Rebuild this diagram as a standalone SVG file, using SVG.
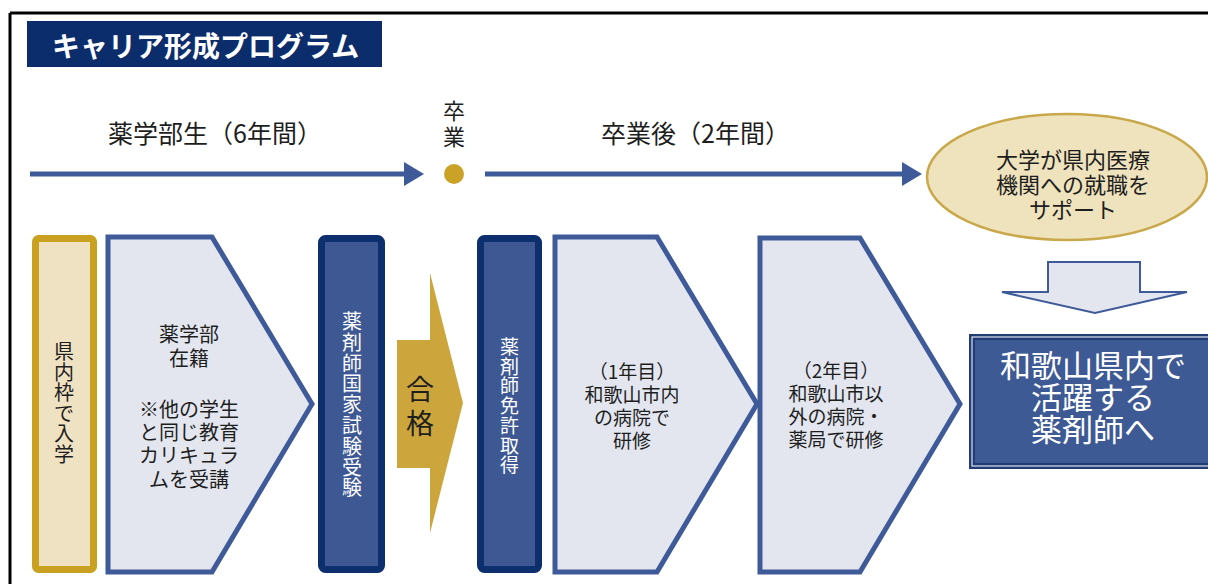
<svg xmlns="http://www.w3.org/2000/svg" width="1208" height="584" viewBox="0 0 1208 584">
<style>
text{font-family:"Noto Sans CJK JP","Noto Sans",sans-serif;dominant-baseline:central;text-anchor:middle}
.dk{fill:#1e1e1e}
.wt{fill:#ffffff}
.pent{fill:#e3e6ef;stroke:#3f5a98;stroke-width:5;stroke-linejoin:miter}
.bar{fill:#3d5893;stroke:#0e2f6e;stroke-width:7}
.tl{stroke:#3f5a98;stroke-width:5}
.tlh{fill:#3f5a98}
</style>
<rect x="0" y="0" width="1208" height="584" fill="#ffffff"/>
<g id="frame">
<line x1="10" y1="13" x2="1208" y2="13" stroke="#000" stroke-width="3"/>
<line x1="10" y1="13" x2="10" y2="584" stroke="#000" stroke-width="3"/>
</g>
<g id="title">
<rect x="27" y="21" width="355" height="46" fill="#0c2d6b"/>
<text x="52" y="45" class="wt" font-size="28" font-weight="bold" style="text-anchor:start">キャリア形成プログラム</text>
</g>
<g id="label-student">
<text x="108" y="132" class="dk" font-size="25" style="text-anchor:start">薬学部生（6年間）</text>
</g>
<g id="label-graduate">
<text x="601" y="132" class="dk" font-size="25" style="text-anchor:start">卒業後（2年間）</text>
</g>
<g id="graduation">
<text x="454" y="109" class="dk" font-size="22">卒</text>
<text x="454" y="135" class="dk" font-size="22">業</text>
<circle cx="454" cy="174" r="10" fill="#c9a227"/>
</g>
<g id="connectors">
<line x1="30" y1="174" x2="406" y2="174" class="tl"/>
<polygon points="404,162 424,174 404,186" class="tlh"/>
<line x1="485" y1="174" x2="904" y2="174" class="tl"/>
<polygon points="902,162 922,174 902,186" class="tlh"/>
<polygon points="1048,262 1140,262 1140,292 1187,292 1095,313 1002,292 1048,292" fill="#e3e6ef" stroke="#3f5a98" stroke-width="2"/>
</g>
<g id="support">
<ellipse cx="1067" cy="177" rx="140" ry="63" fill="#efe3bd" stroke="#c8a84a" stroke-width="2.5"/>
<text x="1073" y="158" class="dk" font-size="22">大学が県内医療</text>
<text x="1073" y="183" class="dk" font-size="22">機関への就職を</text>
<text x="1073" y="208" class="dk" font-size="22">サポート</text>
</g>
<g id="admission">
<rect x="35.5" y="238.5" width="58" height="331" rx="3" fill="#efe2c2" stroke="#c9a020" stroke-width="7"/>
<text class="dk" font-size="20"><tspan x="64" y="350">県</tspan><tspan x="64" y="370.5">内</tspan><tspan x="64" y="391">枠</tspan><tspan x="64" y="411.5">で</tspan><tspan x="64" y="432">入</tspan><tspan x="64" y="452.5">学</tspan></text>
</g>
<g id="enrolled">
<polygon points="108,237 212,237 312,404 212,572 108,572" class="pent"/>
<text x="189" y="333" class="dk" font-size="20">薬学部</text>
<text x="189" y="357" class="dk" font-size="20">在籍</text>
<text x="189" y="408" class="dk" font-size="20">※他の学生</text>
<text x="189" y="431" class="dk" font-size="20">と同じ教育</text>
<text x="189" y="454" class="dk" font-size="20">カリキュラ</text>
<text x="189" y="478" class="dk" font-size="20">ムを受講</text>
</g>
<g id="exam">
<rect x="321.5" y="238.5" width="60" height="331" rx="4" class="bar"/>
<text class="wt" font-size="20"><tspan x="352" y="320">薬</tspan><tspan x="352" y="340.8">剤</tspan><tspan x="352" y="361.6">師</tspan><tspan x="352" y="382.4">国</tspan><tspan x="352" y="403.2">家</tspan><tspan x="352" y="424">試</tspan><tspan x="352" y="444.8">験</tspan><tspan x="352" y="465.6">受</tspan><tspan x="352" y="486.4">験</tspan></text>
</g>
<g id="pass">
<polygon points="397,340 430,340 430,273 463,403 430,533 430,468 397,468" fill="#cca53c"/>
<text x="420" y="388" class="dk" font-size="28">合</text>
<text x="420" y="422" class="dk" font-size="28">格</text>
</g>
<g id="license">
<rect x="480.5" y="238.5" width="58" height="331" rx="4" class="bar"/>
<text class="wt" font-size="19"><tspan x="509.5" y="345">薬</tspan><tspan x="509.5" y="364.7">剤</tspan><tspan x="509.5" y="384.4">師</tspan><tspan x="509.5" y="404.1">免</tspan><tspan x="509.5" y="423.8">許</tspan><tspan x="509.5" y="443.5">取</tspan><tspan x="509.5" y="463.2">得</tspan></text>
</g>
<g id="year1">
<polygon points="555,237 657,237 757,404 657,572 555,572" class="pent"/>
<text x="632" y="370" class="dk" font-size="19">（1年目）</text>
<text x="632" y="393" class="dk" font-size="19">和歌山市内</text>
<text x="632" y="416" class="dk" font-size="19">の病院で</text>
<text x="632" y="439" class="dk" font-size="19">研修</text>
</g>
<g id="year2">
<polygon points="760,238 860,238 960,404 860,572 760,572" class="pent"/>
<text x="836" y="369" class="dk" font-size="19">（2年目）</text>
<text x="836" y="392" class="dk" font-size="19">和歌山市以</text>
<text x="836" y="415" class="dk" font-size="19">外の病院・</text>
<text x="836" y="438" class="dk" font-size="19">薬局で研修</text>
</g>
<g id="goal">
<rect x="972" y="337" width="250" height="129" fill="#3e5a94" stroke="#213c74" stroke-width="6"/>
<rect x="972" y="337" width="250" height="129" fill="none" stroke="#dde3f0" stroke-width="1.2"/>
<text x="1093" y="363" class="wt" font-size="31">和歌山県内で</text>
<text x="1093" y="395" class="wt" font-size="31">活躍する</text>
<text x="1093" y="427" class="wt" font-size="31">薬剤師へ</text>
</g>
</svg>
